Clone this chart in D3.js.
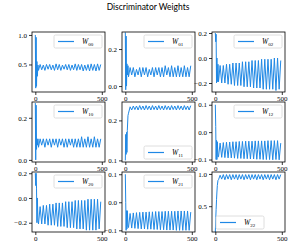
<!DOCTYPE html>
<html>
<head>
<meta charset="utf-8">
<script src="https://d3js.org/d3.v7.min.js"></script>
<style>
  body { margin: 0; background: #fff; }
  .line { fill: none; stroke: #1f88e5; stroke-width: 1; }
  .tick text { font-family: "Liberation Serif", serif; font-size: 7px; fill: #000; }
  .domain { stroke: #000; stroke-width: 0.8; }
  .tick line { stroke: #000; stroke-width: 0.8; }
  .legend-line { stroke: #1f88e5; stroke-width: 1.2; }
</style>
</head>
<body>
<div id="chart"></div>
<script>
var steps = [0,3,6,9,12,15,20,24,36,48,60,72,84,96,108,120,132,144,156,168,180,192,204,216,228,240,
  252,264,276,288,300,312,324,336,348,360,372,384,396,408,420,432,444,456,468,480,492];

var w00 = [1.00,0.10,0.96,0.13,0.55,0.30,0.49,
  0.40,0.50,0.41,0.49,0.40,0.50,0.42,0.50,0.41,0.49,
  0.40,0.51,0.41,0.50,0.40,0.49,0.42,0.50,0.41,0.50,
  0.40,0.49,0.41,0.51,0.40,0.50,0.41,0.50,0.39,0.49,
  0.40,0.50,0.39,0.51,0.40,0.50,0.39,0.51,0.40,0.50];
var w01 = [0.29,-0.02,0.27,0.00,0.12,0.06,0.11,
  0.05,0.10,0.06,0.10,0.05,0.09,0.06,0.10,0.05,0.10,
  0.06,0.10,0.05,0.09,0.06,0.10,0.05,0.10,0.06,0.10,
  0.05,0.10,0.05,0.11,0.06,0.10,0.05,0.11,0.05,0.10,
  0.05,0.11,0.05,0.10,0.05,0.11,0.05,0.10,0.05,0.11];
var w02 = [0.20,0.13,0.19,-0.20,0.00,-0.19,-0.05,
  -0.19,-0.06,-0.20,-0.06,-0.20,-0.05,-0.21,-0.05,-0.21,-0.04,
  -0.22,-0.04,-0.22,-0.04,-0.22,-0.03,-0.23,-0.03,-0.23,-0.03,
  -0.23,-0.02,-0.24,-0.02,-0.24,-0.02,-0.24,-0.01,-0.25,-0.01,
  -0.25,-0.01,-0.25,-0.01,-0.25,0.00,-0.26,0.00,-0.25,-0.02];
var w10 = [0.27,0.00,0.26,0.05,0.10,0.07,0.10,
  0.06,0.10,0.07,0.10,0.06,0.10,0.07,0.10,0.06,0.10,
  0.07,0.10,0.06,0.10,0.07,0.10,0.06,0.10,0.06,0.10,
  0.07,0.10,0.06,0.10,0.06,0.10,0.06,0.11,0.06,0.10,
  0.06,0.11,0.06,0.10,0.06,0.11,0.06,0.10,0.06,0.10];
var w11 = [0.100,0.165,0.115,0.170,0.120,0.175,0.212,
  0.218,0.234,0.226,0.236,0.227,0.236,0.226,0.237,0.227,0.236,
  0.226,0.237,0.227,0.236,0.226,0.237,0.227,0.236,0.226,0.237,
  0.227,0.236,0.226,0.237,0.227,0.236,0.226,0.237,0.227,0.236,
  0.226,0.237,0.227,0.236,0.226,0.237,0.227,0.236,0.226,0.237];
var w12 = [0.100,0.020,-0.100,-0.030,-0.100,-0.035,-0.090,
  -0.090,-0.040,-0.092,-0.038,-0.093,-0.037,-0.094,-0.036,-0.094,-0.035,
  -0.095,-0.035,-0.096,-0.034,-0.096,-0.034,-0.097,-0.033,-0.097,-0.033,
  -0.098,-0.033,-0.098,-0.032,-0.099,-0.032,-0.099,-0.032,-0.100,-0.032,
  -0.100,-0.031,-0.100,-0.031,-0.101,-0.031,-0.100,-0.031,-0.101,-0.040];
var w20 = [0.20,0.10,0.20,0.08,-0.20,0.00,-0.18,
  -0.21,-0.07,-0.21,-0.06,-0.21,-0.06,-0.22,-0.05,-0.22,-0.05,
  -0.22,-0.04,-0.23,-0.04,-0.23,-0.04,-0.23,-0.03,-0.24,-0.03,
  -0.24,-0.03,-0.24,-0.02,-0.25,-0.02,-0.25,-0.02,-0.25,-0.02,
  -0.26,-0.01,-0.26,-0.01,-0.26,-0.01,-0.26,-0.01,-0.25,-0.03];
var w21 = [0.100,0.000,-0.100,-0.030,-0.095,-0.030,-0.085,
  -0.090,-0.040,-0.092,-0.038,-0.093,-0.037,-0.094,-0.036,-0.095,-0.035,
  -0.095,-0.035,-0.096,-0.034,-0.096,-0.034,-0.097,-0.033,-0.097,-0.033,
  -0.098,-0.033,-0.098,-0.032,-0.099,-0.032,-0.099,-0.032,-0.099,-0.032,
  -0.100,-0.031,-0.100,-0.031,-0.100,-0.031,-0.100,-0.031,-0.100,-0.035];
var w22 = [0.10,0.30,0.45,0.60,0.72,0.82,0.90,
  0.91,0.98,0.92,0.99,0.91,0.99,0.92,0.99,0.91,0.99,
  0.92,0.99,0.91,0.99,0.92,0.99,0.91,0.99,0.92,0.99,
  0.91,0.99,0.92,0.99,0.91,0.99,0.92,0.99,0.91,0.99,
  0.92,0.99,0.91,0.99,0.92,0.99,0.91,0.99,0.92,0.99];

var subscripts = ["00","01","02","10","11","12","20","21","22"];
var series = [w00, w01, w02, w10, w11, w12, w20, w21, w22];
var xTicks = [0, 500];
var yTicks = [[0.5, 1.0], [0.0, 0.2], [-0.2, 0.0, 0.2],
              [0.0, 0.2], [0.1, 0.2], [-0.1, 0.0, 0.1],
              [-0.2, 0.0, 0.2], [-0.1, 0.0, 0.1], [0.5, 1.0]];
var yLims = [[0.034, 1.05], [-0.032, 0.292], [-0.272, 0.208],
             [-0.01, 0.275], [0.096, 0.246], [-0.109, 0.11],
             [-0.275, 0.21], [-0.106, 0.108], [0.10, 1.03]];
var legendLoc = ["ur","ur","ur","ur","lr","ur","ur","ur","ll"];

var W = 295, H = 249;
var colLeft = [32, 122, 212], rowTop = [32, 102, 172];
var pw = 73, ph = 60;

var svg = d3.select("#chart").append("svg")
    .attr("width", W)
    .attr("height", H);

svg.append("text")
    .attr("x", 148)
    .attr("y", 10)
    .attr("text-anchor", "middle")
    .style("font-family", "Lato, sans-serif")
    .style("font-size", "8.5px")
    .text("Discriminator Weights");

var xScale = d3.scaleLinear().domain([-25, 524]).range([0, pw]);

series.forEach(function(vals, k) {
    var r = Math.floor(k / 3), c = k % 3;
    var g = svg.append("g")
        .attr("transform", "translate(" + colLeft[c] + "," + rowTop[r] + ")");

    var yScale = d3.scaleLinear().domain(yLims[k]).range([ph, 0]);

    var clipId = "clip" + k;
    g.append("clipPath").attr("id", clipId)
      .append("rect").attr("width", pw).attr("height", ph);

    var line = d3.line()
        .x(function(d, i) { return xScale(steps[i]); })
        .y(function(d) { return yScale(d); });

    g.append("path")
        .datum(vals)
        .attr("class", "line")
        .attr("clip-path", "url(#" + clipId + ")")
        .attr("d", line);

    // frame
    g.append("rect")
        .attr("width", pw).attr("height", ph)
        .attr("fill", "none").attr("stroke", "#000").attr("stroke-width", 0.8);

    g.append("g")
        .attr("transform", "translate(0," + ph + ")")
        .call(d3.axisBottom(xScale).tickValues(xTicks).tickSize(3).tickPadding(1).tickFormat(d3.format("d")))
        .call(function(a) { a.select(".domain").remove(); });

    g.append("g")
        .call(d3.axisLeft(yScale).tickValues(yTicks[k]).tickSize(3).tickPadding(2).tickFormat(d3.format(".1f")))
        .call(function(a) { a.select(".domain").remove(); })
        .selectAll("text").text(function(d) { return d3.format(".1f")(d).replace("-", "\u2212"); });

    // legend
    var lw = 48, lh = 13, lx, ly;
    var loc = legendLoc[k];
    lx = (loc === "ll") ? 4 : pw - lw - 3;
    ly = (loc === "ur") ? 3 : ph - lh - 3;
    var lg = g.append("g").attr("transform", "translate(" + lx + "," + ly + ")");
    lg.append("rect")
        .attr("width", lw).attr("height", lh).attr("rx", 1.5)
        .attr("fill", "#fff").attr("fill-opacity", 0.8)
        .attr("stroke", "#d6d6d6").attr("stroke-width", 0.8);
    lg.append("line")
        .attr("class", "legend-line")
        .attr("x1", 4).attr("x2", 20).attr("y1", lh / 2).attr("y2", lh / 2);
    var t = lg.append("text")
        .attr("x", 28).attr("y", lh / 2 + 2.5)
        .style("font-family", "Liberation Serif, serif")
        .style("font-size", "7.5px");
    t.append("tspan").style("font-style", "italic").text("W");
    t.append("tspan").attr("dy", 1.5).style("font-size", "5px").text(subscripts[k]);
});
</script>
</body>
</html>
